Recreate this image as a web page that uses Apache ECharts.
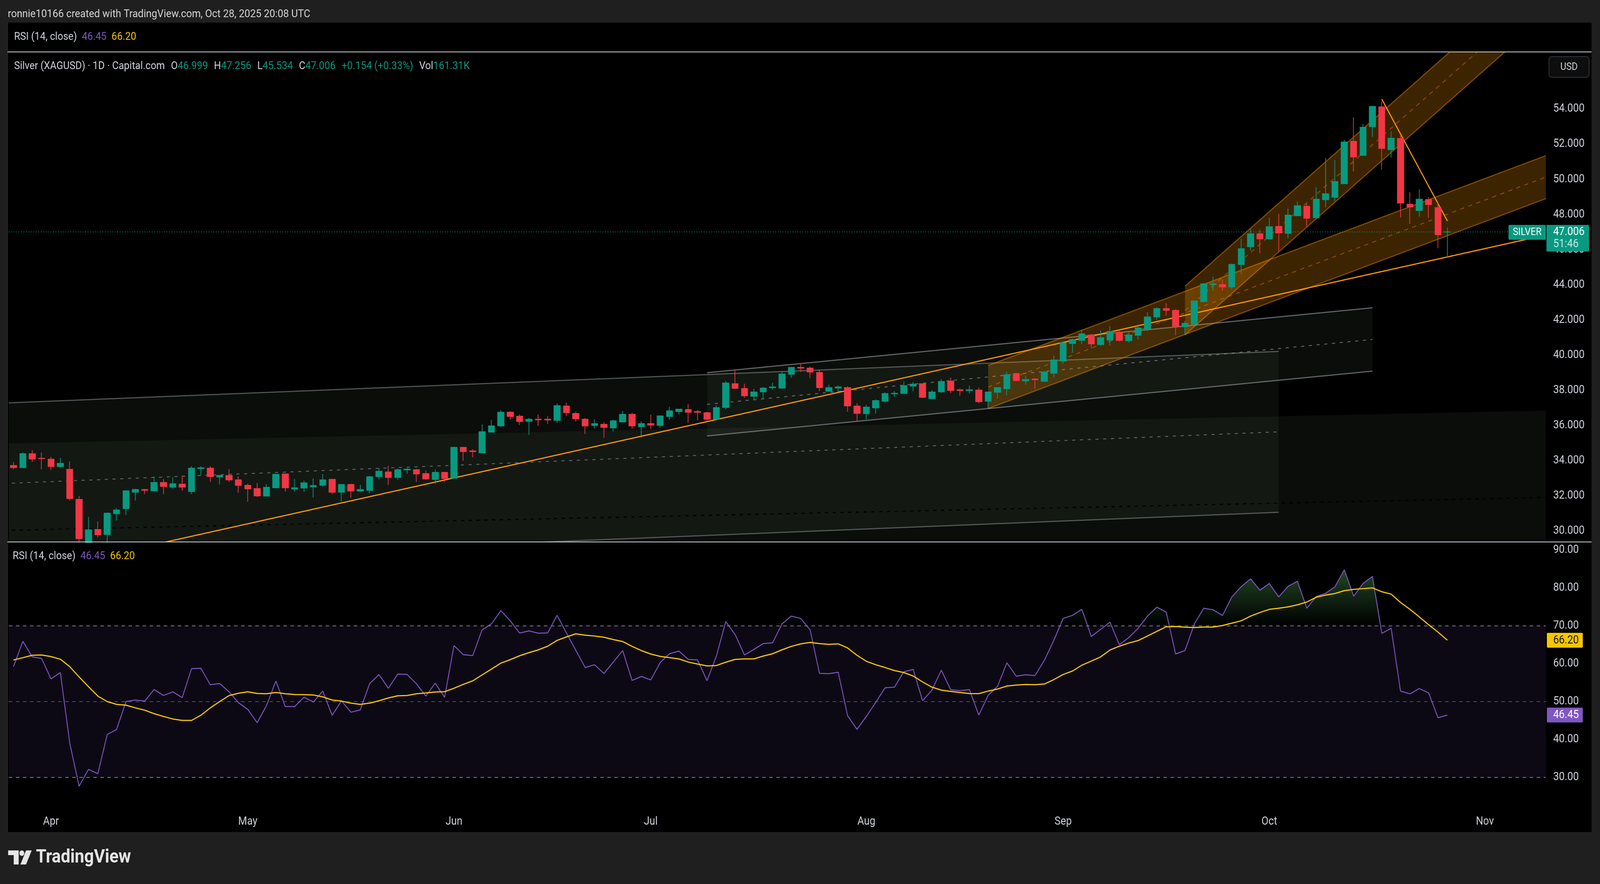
<!DOCTYPE html>
<html><head><meta charset="utf-8">
<script src="https://cdn.jsdelivr.net/npm/echarts@6/dist/echarts.min.js"></script>
<style>
html,body{margin:0;padding:0;background:#000;overflow:hidden;width:100%;height:100%}
#wrap{position:fixed;left:0;top:0;width:100vw;height:100vh;overflow:hidden;background:#000}
#c{width:4545px;height:2264px;transform-origin:0 0}
</style>
</head><body><div id="wrap"><div id="c"></div></div>
<script>
// ---------- calendar (trading days shown on the time axis) ----------
const tradingDays = {
  '2025-03': [26,27,28,31],
  '2025-04': [1,2,3,4,7,8,9,10,11,14,15,16,17,21,22,23,24,25,28,29,30],
  '2025-05': [1,2,5,6,7,8,9,12,13,14,15,16,19,20,21,22,23,26,27,28,29,30],
  '2025-06': [2,3,4,5,6,9,10,11,12,13,16,17,18,19,20,23,24,25,26,27,30],
  '2025-07': [1,2,3,4,7,8,9,10,11,14,15,16,17,18,21,22,23,24,25,28,29,30,31],
  '2025-08': [1,4,5,6,7,8,11,12,13,14,15,18,19,20,21,22,25,26,27,28,29],
  '2025-09': [1,2,3,4,5,8,9,10,11,12,15,16,17,18,19,22,23,24,25,26,29,30],
  '2025-10': [1,2,3,6,7,8,9,10,13,14,15,16,17,20,21,22,23,24,27,28,29,30,31],
  '2025-11': [3,4,5,6,7,10,11]
};
const monthTickLabels = {'01':'Jan','02':'Feb','03':'Mar','04':'Apr','05':'May','06':'Jun','07':'Jul','08':'Aug','09':'Sep','10':'Oct','11':'Nov','12':'Dec'};

// ---------- OHLC (Silver XAGUSD, 1D) ----------
const opens = [
33.72,33.60,34.39,34.13,34.08,33.66,33.50,31.79,29.20,30.08,
29.80,30.98,31.27,32.20,32.35,32.28,32.75,32.49,32.66,32.24,
33.55,33.57,33.07,33.15,32.90,32.59,32.41,31.98,32.45,33.24,
32.38,32.44,32.51,32.60,32.93,32.20,32.64,32.27,32.31,33.09,
33.35,33.04,33.47,33.48,33.26,32.93,33.33,33.00,34.75,34.55,
34.44,35.62,35.98,36.75,36.52,36.24,36.35,36.35,36.29,37.10,
36.68,36.35,36.00,36.06,35.86,36.20,36.63,35.93,36.10,36.00,
36.51,36.79,36.90,36.79,36.72,36.35,37.02,38.37,38.10,37.66,
37.91,38.15,38.13,38.91,39.30,39.26,39.01,37.95,38.13,38.15,
37.10,36.67,37.00,37.38,37.80,37.82,38.24,38.37,37.53,37.91,
38.52,38.03,37.99,38.01,37.38,37.89,38.09,38.95,38.53,38.64,
38.51,38.97,39.66,40.66,40.84,41.14,40.60,40.86,41.30,40.82,
41.13,41.48,42.17,42.65,42.54,41.62,41.77,43.04,44.02,44.01,
43.88,45.15,46.17,46.90,46.61,47.32,46.93,47.93,48.47,47.82,
48.84,48.98,49.75,52.16,51.36,53.00,54.12,51.69,52.32,48.58,
48.23,48.85,48.39,46.999];
const highs = [
33.92,34.46,34.59,34.46,34.21,34.15,33.95,31.99,30.79,30.53,
31.04,31.30,32.28,32.39,32.39,33.10,32.95,33.06,33.15,33.68,
33.68,33.68,33.19,33.52,33.10,32.68,32.72,32.66,33.24,33.24,
32.95,32.86,32.99,33.24,32.97,32.66,32.68,32.62,33.13,33.57,
33.70,33.55,33.57,33.53,33.43,33.50,33.35,34.79,34.75,34.64,
36.06,36.32,36.88,36.81,36.63,36.43,36.63,36.52,37.26,37.30,
36.77,36.41,36.35,36.19,36.32,36.83,36.72,36.23,36.61,36.57,
37.06,36.94,37.21,36.88,36.77,37.12,38.52,39.12,38.37,38.08,
38.17,38.43,39.06,39.30,39.52,39.35,39.19,38.32,38.28,38.23,
37.26,37.17,37.48,37.88,37.95,38.50,38.48,38.37,38.01,38.63,
38.72,38.10,38.26,38.15,37.92,38.19,39.06,38.99,38.83,38.70,
39.12,39.97,40.74,40.92,41.46,41.21,41.41,41.65,41.43,41.28,
41.74,42.43,42.72,42.96,42.61,41.94,43.10,44.10,44.45,44.30,
45.21,46.61,47.16,47.14,47.81,48.03,48.34,48.74,48.63,49.54,
51.21,51.10,52.25,53.52,53.16,54.18,54.45,52.74,52.54,49.27,
49.43,48.98,48.67,47.256];
const lows = [
33.50,33.60,33.93,33.50,33.46,33.60,31.73,28.80,28.40,29.62,
29.30,30.58,30.91,31.73,32.09,32.26,32.09,32.41,32.28,32.09,
33.17,32.78,32.64,32.79,32.17,31.66,31.93,31.96,32.45,32.24,
32.22,32.22,31.89,32.51,32.09,31.67,31.87,32.24,32.13,32.93,
32.62,32.91,33.24,32.78,32.91,32.69,32.78,32.96,33.98,34.18,
34.44,35.62,35.91,36.31,36.02,35.46,35.97,36.09,36.15,36.53,
36.22,35.51,35.82,35.29,35.66,36.20,35.80,35.42,35.80,35.86,
36.33,36.61,36.15,36.29,36.26,36.35,36.91,38.08,37.57,37.48,
37.53,38.04,38.09,38.71,39.04,38.69,37.95,37.91,37.91,36.78,
36.22,36.35,36.67,37.31,37.62,37.82,37.95,37.55,37.51,37.84,
37.84,37.69,37.82,37.26,36.95,37.53,37.71,38.53,38.32,38.08,
38.51,38.73,39.51,40.13,40.62,40.40,40.53,40.53,40.79,40.71,
40.88,41.37,41.99,42.24,41.13,41.17,41.65,43.02,43.64,43.66,
43.75,44.59,45.95,45.79,46.61,45.90,46.64,47.93,47.32,47.73,
48.41,48.76,49.75,50.45,51.34,52.41,50.56,51.23,47.83,47.47,
47.87,47.81,46.08,45.534];
const closes = [
33.60,34.39,34.09,34.11,33.66,33.84,31.84,29.56,30.06,29.78,
31.01,31.19,32.28,32.35,32.31,32.75,32.53,32.68,32.49,33.57,
33.59,33.09,33.15,32.90,32.59,32.39,31.99,32.48,33.22,32.45,
32.45,32.73,32.58,32.90,32.20,32.64,32.27,32.35,33.08,33.39,
33.04,33.48,33.51,33.24,32.96,33.33,32.98,34.75,34.51,34.51,
35.64,35.97,36.75,36.51,36.22,36.35,36.32,36.31,37.12,36.73,
36.38,35.97,36.10,35.89,36.26,36.63,35.97,36.10,36.02,36.54,
36.83,36.92,36.75,36.75,36.35,37.01,38.41,38.11,37.69,37.90,
38.12,38.19,38.92,39.30,39.26,39.04,38.15,38.15,38.19,37.11,
36.69,37.04,37.41,37.81,37.83,38.26,38.35,37.60,37.90,38.50,
37.99,37.99,38.03,37.35,37.90,38.15,38.88,38.55,38.61,38.60,
39.03,39.72,40.70,40.88,41.21,40.64,40.99,41.34,40.84,41.14,
41.54,42.17,42.65,42.55,41.64,41.81,43.08,44.05,44.06,43.88,
45.16,46.05,46.90,46.61,47.30,46.95,47.96,48.50,47.79,48.87,
49.18,49.87,52.12,51.27,52.96,54.14,51.76,52.34,48.65,48.43,
48.87,48.56,46.852,47.006];
const lastVolume = '161.31K';

// ---------- RSI (14, close) and its MA ----------
const rsiValues = [
59.23,65.90,61.80,61.39,56.00,57.66,39.03,27.64,32.11,30.95,
41.30,42.63,50.00,50.41,50.12,53.19,51.61,52.57,51.04,58.70,
58.78,54.43,54.76,52.57,49.71,47.93,44.41,48.97,55.42,48.68,
48.68,51.16,49.88,52.77,46.36,50.21,47.18,47.81,54.76,57.12,
53.52,57.25,57.16,54.68,51.45,54.84,51.12,64.78,62.38,62.13,
68.92,70.50,74.02,71.33,68.10,68.67,68.05,68.14,72.77,68.10,
63.54,58.99,59.73,57.41,60.43,63.46,55.59,56.63,55.71,60.31,
62.63,63.33,61.14,60.97,55.51,62.01,71.12,67.68,62.30,63.75,
65.32,65.53,70.50,72.57,71.95,68.92,57.45,57.37,57.74,46.27,
42.67,46.07,49.79,53.64,53.81,57.87,58.49,50.21,53.02,58.28,
53.11,52.90,53.15,46.44,51.66,54.02,60.23,56.71,57.08,56.87,
60.89,66.15,71.95,72.77,74.35,67.18,69.05,70.99,65.03,66.89,
69.34,72.57,74.93,73.60,62.55,63.46,70.50,74.64,74.22,72.73,
77.62,80.35,82.42,79.40,81.18,77.62,80.43,81.76,74.64,77.74,
78.57,80.31,84.78,77.83,81.18,83.04,68.01,69.34,52.77,52.03,
53.44,52.28,45.73,46.45];
const rsiMA = [
60.97,61.59,62.22,62.30,61.88,61.18,59.23,56.50,53.93,51.45,
50.00,49.25,49.05,48.34,47.72,46.81,46.07,45.40,45.03,45.03,
46.40,48.34,50.00,51.57,52.19,52.57,52.15,52.07,52.40,52.07,
51.86,51.82,51.74,51.24,50.41,50.12,49.59,49.25,49.59,50.21,
50.95,51.53,51.61,52.07,52.28,52.53,52.61,53.52,54.55,55.47,
57.04,58.57,60.14,61.06,62.09,62.92,63.66,64.62,66.15,67.06,
67.89,67.52,67.31,66.98,66.36,65.86,64.58,63.46,62.55,61.93,
61.59,61.26,60.43,59.90,59.40,59.52,60.39,61.14,61.26,61.26,
62.01,62.63,63.66,64.58,65.24,65.61,65.32,65.11,65.24,64.16,
62.22,60.64,59.73,58.99,58.20,57.66,56.75,55.18,53.81,53.02,
52.69,52.40,52.11,52.09,52.77,53.31,54.10,54.35,54.51,54.47,
54.64,55.80,57.16,58.07,59.61,60.68,61.80,63.62,64.62,65.45,
66.11,67.31,68.55,69.75,69.83,69.63,69.54,69.67,69.67,70.08,
70.70,71.33,72.57,73.52,74.35,74.64,75.01,75.55,76.29,77.54,
78.12,78.53,79.28,79.61,79.81,80.02,78.99,78.37,76.17,74.35,
72.36,70.29,68.34,66.20];

// ---------- tick labels ----------
const priceTicks = [30,32,34,36,38,40,42,44,46,48,50,52,54];
const rsiTicks = [30,40,50,60,70,80,90];
const rsiBands = [70,50,30];

// ---------- drawings (anchors in bar-index / price space) ----------
const channelA = {x1:-1, top1:37.27, x2:135, top2:40.21, width:9.15};
const channelDark = {x1:-1, top1:34.97, x2:164, top2:36.85, width:9.88};
const channelB = {x1:74, top1:39.00, x2:145, top2:42.69, width:3.60};
const channelC = {x1:104, top1:39.41, x2:164, top2:51.45, width:2.45};
const channelD = {x1:125, top1:43.92, x2:175, top2:67.50, width:2.77};
const trendUp = [[0,27.44],[164,46.89]];
const trendDown = [[146,54.56],[153,47.63]];

// ---------- fit the 4545x2264 design into the real viewport ----------
const DESIGN_W = 4545, DESIGN_H = 2264;
const host = document.getElementById('c');
host.style.transform = 'scale(' + (window.innerWidth / DESIGN_W) + ',' + (window.innerHeight / DESIGN_H) + ')';

// ---------- build ----------
const dates = [];
Object.keys(tradingDays).forEach(m => tradingDays[m].forEach(d => dates.push(m + '-' + String(d).padStart(2,'0'))));
const candleData = opens.map((o,i) => [o, closes[i], lows[i], highs[i]]);
const n = closes.length;
const lastClose = closes[n-1];
const change = lastClose - closes[n-2];
const changePct = change / closes[n-2] * 100;

const FONT = 'Roboto, "Liberation Sans", Arial, sans-serif';
const TXT = '#d1d4dc';
const UP = '#089981', DOWN = '#f23645';

const mainGrid = {left:25, right:154, top:133, height:1255};
const rsiGrid = {left:25, right:154, top:1389, height:691};
const priceMin = 29.37, priceMax = 57.247;
const rsiMin = 20.80, rsiMax = 92.04;
const yR = v => rsiGrid.top + (rsiMax - v) / (rsiMax - rsiMin) * rsiGrid.height;

function channelSeries(ch, st, z) {
  return {
    type:'custom', xAxisIndex:1, yAxisIndex:0, clip:true, silent:true, z:z, animation:false,
    data:[[ch.x1, ch.top1]],
    renderItem: function(params, api) {
      const t1 = api.coord([ch.x1, ch.top1]), t2 = api.coord([ch.x2, ch.top2]);
      const b1 = api.coord([ch.x1, ch.top1 - ch.width]), b2 = api.coord([ch.x2, ch.top2 - ch.width]);
      const m1 = api.coord([ch.x1, ch.top1 - ch.width/2]), m2 = api.coord([ch.x2, ch.top2 - ch.width/2]);
      const kids = [{type:'polygon', shape:{points:[t1,t2,b2,b1]}, style:{fill:st.fill}}];
      if (st.edge) {
        kids.push({type:'line', shape:{x1:t1[0],y1:t1[1],x2:t2[0],y2:t2[1]}, style:{stroke:st.edge, lineWidth:st.edgeWidth}});
        kids.push({type:'line', shape:{x1:b1[0],y1:b1[1],x2:b2[0],y2:b2[1]}, style:{stroke:st.edge, lineWidth:st.edgeWidth}});
      }
      if (st.mid) kids.push({type:'line', shape:{x1:m1[0],y1:m1[1],x2:m2[0],y2:m2[1]}, style:{stroke:st.mid, lineWidth:st.midWidth, lineDash:st.dash}});
      return {type:'group', children:kids};
    }
  };
}
function lineSeries(pts, color, width, z) {
  return {
    type:'custom', xAxisIndex:1, yAxisIndex:0, clip:true, silent:true, z:z, animation:false,
    data:[pts[0]],
    renderItem: function(params, api) {
      const a = api.coord(pts[0]), b = api.coord(pts[1]);
      return {type:'line', shape:{x1:a[0],y1:a[1],x2:b[0],y2:b[1]}, style:{stroke:color, lineWidth:width}};
    }
  };
}
const grayFill = 'rgba(120,150,120,0.085)';
const orangeStyle = {fill:'rgba(255,152,0,0.24)', edge:'rgba(255,152,0,0.42)', edgeWidth:3, mid:'rgba(255,152,0,0.38)', midWidth:2.5, dash:[12,12]};

const chart = echarts.init(host, null, {renderer:'canvas', width:DESIGN_W, height:DESIGN_H});
const option = {
  backgroundColor:'#000',
  animation:false,
  grid:[mainGrid, rsiGrid],
  xAxis:[
    {type:'category', gridIndex:0, data:dates, boundaryGap:true, axisLine:{show:false}, axisTick:{show:false}, axisLabel:{show:false}, splitLine:{show:false}},
    {type:'value', gridIndex:0, min:-0.5, max:dates.length-0.5, show:false},
    {type:'category', gridIndex:1, data:dates, boundaryGap:true, axisLine:{show:false}, axisTick:{show:false}, splitLine:{show:false},
      axisLabel:{color:TXT, fontSize:29, fontFamily:FONT, margin:10,
        interval:function(i){ return i > 0 && dates[i].slice(5,7) !== dates[i-1].slice(5,7); },
        formatter:function(v){ return monthTickLabels[v.slice(5,7)]; }}}
  ],
  yAxis:[
    {type:'value', gridIndex:0, position:'right', min:priceMin, max:priceMax, scale:true,
      axisLine:{show:false}, axisTick:{show:false}, splitLine:{show:false},
      axisLabel:{customValues:priceTicks, color:TXT, fontSize:29, fontFamily:FONT, margin:21, formatter:v=>v.toFixed(3)}},
    {type:'value', gridIndex:1, position:'right', min:rsiMin, max:rsiMax,
      axisLine:{show:false}, axisTick:{show:false}, splitLine:{show:false},
      axisLabel:{customValues:rsiTicks, color:TXT, fontSize:29, fontFamily:FONT, margin:21, formatter:v=>v.toFixed(2)}}
  ],
  series:[
    channelSeries(channelA, {fill:grayFill, edge:'rgba(140,143,150,0.55)', edgeWidth:3, mid:'rgba(140,143,150,0.6)', midWidth:2.5, dash:[9,13]}, 1),
    channelSeries(channelDark, {fill:grayFill, mid:'rgba(0,0,0,0.9)', midWidth:3, dash:[9,13]}, 1),
    channelSeries(channelB, {fill:grayFill, edge:'rgba(150,153,160,0.62)', edgeWidth:3, mid:'rgba(150,153,160,0.6)', midWidth:2.5, dash:[9,13]}, 1),
    channelSeries(channelC, orangeStyle, 2),
    channelSeries(channelD, orangeStyle, 2),
    lineSeries(trendUp, '#ff9800', 3, 3),
    lineSeries(trendDown, '#ff9800', 3, 3),
    {
      type:'candlestick', xAxisIndex:0, yAxisIndex:0, z:5, data:candleData, barWidth:18,
      itemStyle:{color:UP, color0:DOWN, borderColor:UP, borderColor0:DOWN, borderWidth:2},
      markLine:{silent:true, symbol:['none','none'], label:{show:false}, animation:false,
        lineStyle:{color:UP, type:[2,5], width:2}, data:[{yAxis:lastClose}]}
    },
    {type:'line', xAxisIndex:2, yAxisIndex:1, stack:'ob', data:rsiValues.map(()=>70), symbol:'none', silent:true, lineStyle:{width:0, opacity:0}, z:2},
    {type:'line', xAxisIndex:2, yAxisIndex:1, stack:'ob', data:rsiValues.map(v=>Math.max(v-70,0)), symbol:'none', silent:true, lineStyle:{width:0, opacity:0}, z:2,
      areaStyle:{opacity:1, color:{type:'linear', x:0, y:yR(85), x2:0, y2:yR(70), global:true,
        colorStops:[{offset:0, color:'rgba(34,72,36,1)'},{offset:1, color:'rgba(34,72,36,0)'}]}}},
    {
      type:'line', name:'RSI', xAxisIndex:2, yAxisIndex:1, data:rsiValues, symbol:'none', z:4,
      lineStyle:{color:'#7e57c2', width:2.5},
      markArea:{silent:true, itemStyle:{color:'rgba(126,87,194,0.1)'}, data:[[{yAxis:30},{yAxis:70}]]},
      markLine:{silent:true, symbol:['none','none'], label:{show:false}, animation:false,
        data: rsiBands.map(v => ({yAxis:v, lineStyle:{color: v===50 ? 'rgba(120,123,134,0.6)' : '#787b86', type:[10,10], width:2}}))}
    },
    {type:'line', name:'RSI MA', xAxisIndex:2, yAxisIndex:1, data:rsiMA, symbol:'none', z:5, lineStyle:{color:'#f7c600', width:3}}
  ]
};
chart.setOption(option);

const yP = chart.convertToPixel({yAxisIndex:0}, lastClose);
const yRsiLast = chart.convertToPixel({yAxisIndex:1}, rsiValues[n-1]);
const yMaLast = chart.convertToPixel({yAxisIndex:1}, rsiMA[n-1]);
const sign = change >= 0 ? '+' : '';
const legendText = '{t|Silver (XAGUSD) · 1D · Capital.com}{s|O}{g|' + opens[n-1].toFixed(3) + '}{s|H}{g|' + highs[n-1].toFixed(3) +
  '}{s|L}{g|' + lows[n-1].toFixed(3) + '}{s|C}{g|' + lastClose.toFixed(3) + '}{gs|' + sign + change.toFixed(3) + ' (' + sign + changePct.toFixed(2) + '%)}{s|Vol}{g|' + lastVolume + '}';
const rsiLegend = '{t|RSI (14, close)}{ps|' + rsiValues[n-1].toFixed(2) + '}{ys|' + rsiMA[n-1].toFixed(2) + '}';
const base = {fontSize:28, fontFamily:FONT};
const richBase = {
  t:Object.assign({fill:TXT}, base),
  s:Object.assign({fill:TXT, padding:[0,0,0,17]}, base),
  g:Object.assign({fill:UP}, base),
  gs:Object.assign({fill:UP, padding:[0,0,0,17]}, base),
  ps:Object.assign({fill:'#7e57c2', padding:[0,0,0,14]}, base),
  ys:Object.assign({fill:'#f7c600', padding:[0,0,0,14]}, base)
};

chart.setOption({graphic:[
  {type:'rect', z:50, silent:true, shape:{x:22, y:1390, width:4370, height:52}, style:{fill:'#000'}},
  {type:'rect', z:60, silent:true, shape:{x:0, y:0, width:4545, height:58}, style:{fill:'#1f1f1f'}},
  {type:'rect', z:60, silent:true, shape:{x:0, y:2131, width:4545, height:133}, style:{fill:'#1f1f1f'}},
  {type:'rect', z:60, silent:true, shape:{x:0, y:0, width:21, height:2264}, style:{fill:'#1f1f1f'}},
  {type:'rect', z:60, silent:true, shape:{x:4521, y:0, width:24, height:2264}, style:{fill:'#1f1f1f'}},
  {type:'rect', z:60, silent:true, shape:{x:21, y:58, width:1, height:2073}, style:{fill:'#3a3a3a'}},
  {type:'rect', z:60, silent:true, shape:{x:21, y:132, width:4500, height:2}, style:{fill:'#cfd2d9'}},
  {type:'rect', z:60, silent:true, shape:{x:21, y:1387, width:4500, height:2}, style:{fill:'#cfd2d9'}},
  {type:'text', z:61, silent:true, x:22, y:37, style:{text:'ronnie10166 created with TradingView.com, Oct 28, 2025 20:08 UTC', fill:'#d6d6d6', fontSize:28.5, fontFamily:FONT, verticalAlign:'middle'}},
  {type:'text', z:61, silent:true, x:40, y:95, style:{text:rsiLegend, rich:richBase, verticalAlign:'middle'}},
  {type:'text', z:61, silent:true, x:40, y:170, style:{text:legendText, rich:richBase, verticalAlign:'middle'}},
  {type:'text', z:61, silent:true, x:36, y:1425, style:{text:rsiLegend, rich:richBase, verticalAlign:'middle'}},
  // USD button
  {type:'rect', z:61, silent:true, shape:{x:4400, y:145, width:114, height:53, r:8}, style:{fill:'#0e0e0e', stroke:'#33363f', lineWidth:2}},
  {type:'text', z:62, silent:true, x:4457, y:172, style:{text:'USD', fill:TXT, fontSize:26, fontFamily:FONT, align:'center', verticalAlign:'middle'}},
  // last price labels
  {type:'rect', z:61, silent:true, shape:{x:4285, y:yP-18, width:106, height:38, r:3}, style:{fill:UP}},
  {type:'text', z:62, silent:true, x:4338, y:yP+1, style:{text:'SILVER', fill:'#fff', fontSize:26, fontFamily:FONT, align:'center', verticalAlign:'middle'}},
  {type:'rect', z:61, silent:true, shape:{x:4393, y:yP-18, width:121, height:68, r:[0,4,4,0]}, style:{fill:UP}},
  {type:'text', z:62, silent:true, x:4412, y:yP+1, style:{text:lastClose.toFixed(3), fill:'#fff', fontSize:29, fontFamily:FONT, verticalAlign:'middle'}},
  {type:'text', z:62, silent:true, x:4412, y:yP+32, style:{text:'51:46', fill:'rgba(255,255,255,0.78)', fontSize:29, fontFamily:FONT, verticalAlign:'middle'}},
  // RSI labels
  {type:'rect', z:61, silent:true, shape:{x:4394, y:yMaLast-19, width:102, height:38, r:3}, style:{fill:'#f7c600'}},
  {type:'text', z:62, silent:true, x:4412, y:yMaLast+1, style:{text:rsiMA[n-1].toFixed(2), fill:'#131722', fontSize:29, fontFamily:FONT, verticalAlign:'middle'}},
  {type:'rect', z:61, silent:true, shape:{x:4394, y:yRsiLast-19, width:102, height:38, r:3}, style:{fill:'#7e57c2'}},
  {type:'text', z:62, silent:true, x:4412, y:yRsiLast+1, style:{text:rsiValues[n-1].toFixed(2), fill:'#fff', fontSize:29, fontFamily:FONT, verticalAlign:'middle'}},
  // TradingView logo
  {type:'rect', z:61, silent:true, shape:{x:23, y:2178, width:30, height:12}, style:{fill:'#e6e6e6'}},
  {type:'rect', z:61, silent:true, shape:{x:39, y:2178, width:14, height:36}, style:{fill:'#e6e6e6'}},
  {type:'circle', z:61, silent:true, shape:{cx:62, cy:2185, r:7}, style:{fill:'#e6e6e6'}},
  {type:'polygon', z:61, silent:true, shape:{points:[[74,2178],[90,2178],[74,2214],[58,2214]]}, style:{fill:'#e6e6e6'}},
  {type:'text', z:61, silent:true, x:102, y:2197, style:{text:'TradingView', fill:'#e6e6e6', fontSize:48, fontWeight:'bold', fontFamily:FONT, verticalAlign:'middle'}}
]});
</script>
</body></html>
